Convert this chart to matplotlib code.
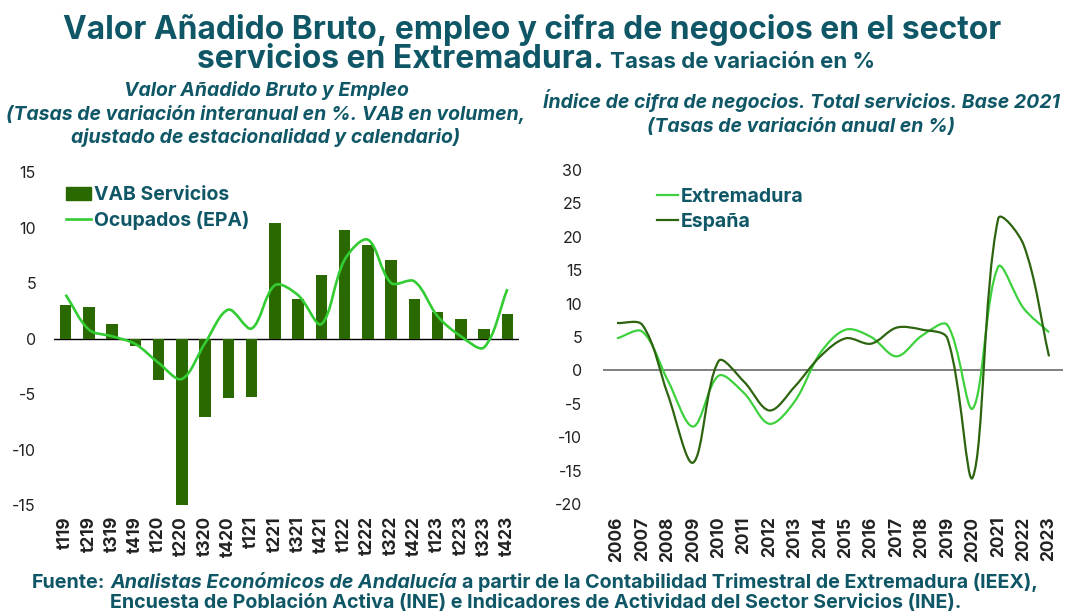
import numpy as np
import matplotlib.pyplot as plt
from matplotlib.path import Path
from matplotlib.patches import PathPatch, Patch
from matplotlib.lines import Line2D
from matplotlib.transforms import IdentityTransform

# datos
quarters = ['t119', 't219', 't319', 't419', 't120', 't220', 't320', 't420', 't121', 't221',
            't321', 't421', 't122', 't222', 't322', 't422', 't123', 't223', 't323', 't423']
vab = [3.0, 2.8, 1.3, -0.7, -3.7, -15.1, -7.1, -5.4, -5.3, 10.4,
       3.6, 5.7, 9.75, 8.4, 7.1, 3.6, 2.35, 1.8, 0.9, 2.2]
ocupados = [3.95, 0.8, 0.2, -0.5, -2.2, -3.65, -0.4, 2.6, 0.9, 4.8,
            3.9, 1.3, 7.1, 8.9, 5.0, 5.15, 2.0, 0.2, -0.8, 4.45]

years = list(range(2006, 2024))
extremadura = [4.8, 5.8, -1.5, -8.4, -0.8, -3.4, -8.0, -4.6, 2.6, 6.1,
               5.0, 2.1, 5.2, 6.8, -5.7, 15.5, 9.3, 5.7]
espana = [7.1, 6.8, -3.6, -13.8, 1.4, -1.7, -6.0, -2.4, 2.1, 4.8,
          4.0, 6.4, 6.1, 4.8, -16.0, 22.7, 18.8, 2.1]

teal = '#0f5766'
dark_green = '#2a6800'
light_green = '#33cc33'
tick_col = '#222222'

plt.rcParams['font.family'] = ['Inter', 'DejaVu Sans']
plt.rcParams['axes.unicode_minus'] = False


def smooth_path(x, y, sx, sy):
    # linea suavizada parecida a la de excel, distancias medidas en pixeles (sx, sy = px por unidad)
    x = np.asarray(x, float)
    y = np.asarray(y, float)
    n = len(x)

    def d(i, j):
        return np.hypot((x[j] - x[i]) * sx, (y[j] - y[i]) * sy)

    verts = [(x[0], y[0])]
    codes = [Path.MOVETO]
    for i in range(n - 1):
        a = i - 1 if i > 0 else i
        b = i + 2 if i + 2 < n else i + 1
        d12 = d(i, i + 1)
        f1 = d12 / (3 * (d(a, i) + d12)) if a != i else 1 / 3
        f2 = d12 / (3 * (d12 + d(i + 1, b))) if b != i + 1 else 1 / 3
        c1 = (x[i] + (x[i + 1] - x[a]) * f1, y[i] + (y[i + 1] - y[a]) * f1)
        c2 = (x[i + 1] - (x[b] - x[i]) * f2, y[i + 1] - (y[b] - y[i]) * f2)
        verts += [c1, c2, (x[i + 1], y[i + 1])]
        codes += [Path.CURVE4] * 3
    return Path(verts, codes)


W, H = 1065, 613
fig = plt.figure(figsize=(W / 100, H / 100), dpi=100)

# ---- panel izquierdo
ax1 = fig.add_axes([54 / W, 1 - 505 / H, 465 / W, 333 / H])
xs = np.arange(len(quarters))
ax1.bar(xs, vab, width=0.5, color=dark_green, zorder=2)
ax1.add_patch(PathPatch(smooth_path(xs, ocupados, 23.25, 11.1), fill=False,
                        edgecolor=light_green, lw=1.9, zorder=3))
ax1.axhline(0, color='black', lw=1, zorder=1)
ax1.set_xlim(-0.5, len(quarters) - 0.5)
ax1.set_ylim(-15, 15)
ax1.set_yticks(range(-15, 16, 5))
ax1.set_xticks(xs)
ax1.set_xticklabels(quarters, rotation=90, fontweight='bold', fontsize=12.5, color=tick_col)
ax1.tick_params(axis='y', length=0, pad=13, labelsize=11.5, labelcolor=tick_col)
ax1.tick_params(axis='x', length=0, pad=8)
for s in ax1.spines.values():
    s.set_visible(False)

h1 = [Patch(color=dark_green), Line2D([], [], color=light_green, lw=1.9)]
ax1.legend(h1, ['VAB Servicios', 'Ocupados (EPA)'], loc='upper left', bbox_to_anchor=(0.01, 0.98),
           frameon=False, handlelength=1.25, handletextpad=0.15, labelspacing=0.35, borderaxespad=0,
           prop={'weight': 'bold', 'size': 14}, labelcolor=teal)

# ---- panel derecho
ax2 = fig.add_axes([603 / W, 1 - 504 / H, 460 / W, 334 / H])
ax2.add_patch(PathPatch(smooth_path(years, extremadura, 25.4, 6.68), fill=False,
                        edgecolor='#3dd13d', lw=1.6, zorder=3))
ax2.add_patch(PathPatch(smooth_path(years, espana, 25.4, 6.68), fill=False,
                        edgecolor='#2d6410', lw=1.6, zorder=4))
ax2.axhline(0, color='#7f7f7f', lw=1.4, zorder=1)
ax2.set_xlim(2005.45, 2023.55)
ax2.set_ylim(-20, 30)
ax2.set_yticks(range(-20, 31, 5))
ax2.set_xticks(years)
ax2.set_xticklabels([str(y) for y in years], rotation=90, fontweight='bold', fontsize=12.5, color=tick_col)
ax2.tick_params(axis='y', length=0, pad=15, labelsize=11.5, labelcolor=tick_col)
ax2.tick_params(axis='x', length=0, pad=9)
for s in ax2.spines.values():
    s.set_visible(False)

h2 = [Line2D([], [], color='#3dd13d', lw=1.6), Line2D([], [], color='#2d6410', lw=1.6)]
ax2.legend(h2, ['Extremadura', 'España'], loc='upper left', bbox_to_anchor=(0.1, 0.97),
           frameon=False, handlelength=1.1, handletextpad=0.15, labelspacing=0.35, borderaxespad=0,
           prop={'weight': 'bold', 'size': 14}, labelcolor=teal)

# ---- textos
renderer = fig.canvas.get_renderer()


def runs(cx, y, pieces, gap=5):
    # escribe trozos de texto seguidos, centrados en cx (pixeles)
    ts = [fig.text(0, H - y, s, transform=IdentityTransform(), va='baseline', color=teal, **kw)
          for s, kw in pieces]
    ws = [t.get_window_extent(renderer).width for t in ts]
    x = cx - (sum(ws) + gap * (len(ts) - 1)) / 2
    for t, w in zip(ts, ws):
        t.set_x(x)
        x += w + gap


runs(532, 39, [('Valor Añadido Bruto, empleo y cifra de negocios en el sector', dict(fontsize=22.9, fontweight='bold'))])
runs(536, 68, [('servicios en Extremadura.', dict(fontsize=22.9, fontweight='bold')),
               ('Tasas de variación en %', dict(fontsize=16, fontweight='bold'))], gap=6)

sub = dict(fontsize=14, fontweight='bold', style='italic')
runs(266, 96, [('Valor Añadido Bruto y Empleo', sub)])
runs(266, 120, [('(Tasas de variación interanual en %. VAB en volumen,', sub)])
runs(266, 143, [('ajustado de estacionalidad y calendario)', sub)])
runs(801, 108, [('Índice de cifra de negocios. Total servicios. Base 2021', sub)])
runs(801, 132, [('(Tasas de variación anual en %)', sub)])

foot = dict(fontsize=14.2, fontweight='bold')
runs(535, 588, [('Fuente:', foot),
                ('Analistas Económicos de Andalucía', dict(foot, style='italic')),
                ('a partir de la Contabilidad Trimestral de Extremadura (IEEX),', foot)], gap=5)
runs(536, 608, [('Encuesta de Población Activa (INE) e Indicadores de Actividad del Sector Servicios (INE).', foot)])

fig.savefig('out.png', dpi=100)
